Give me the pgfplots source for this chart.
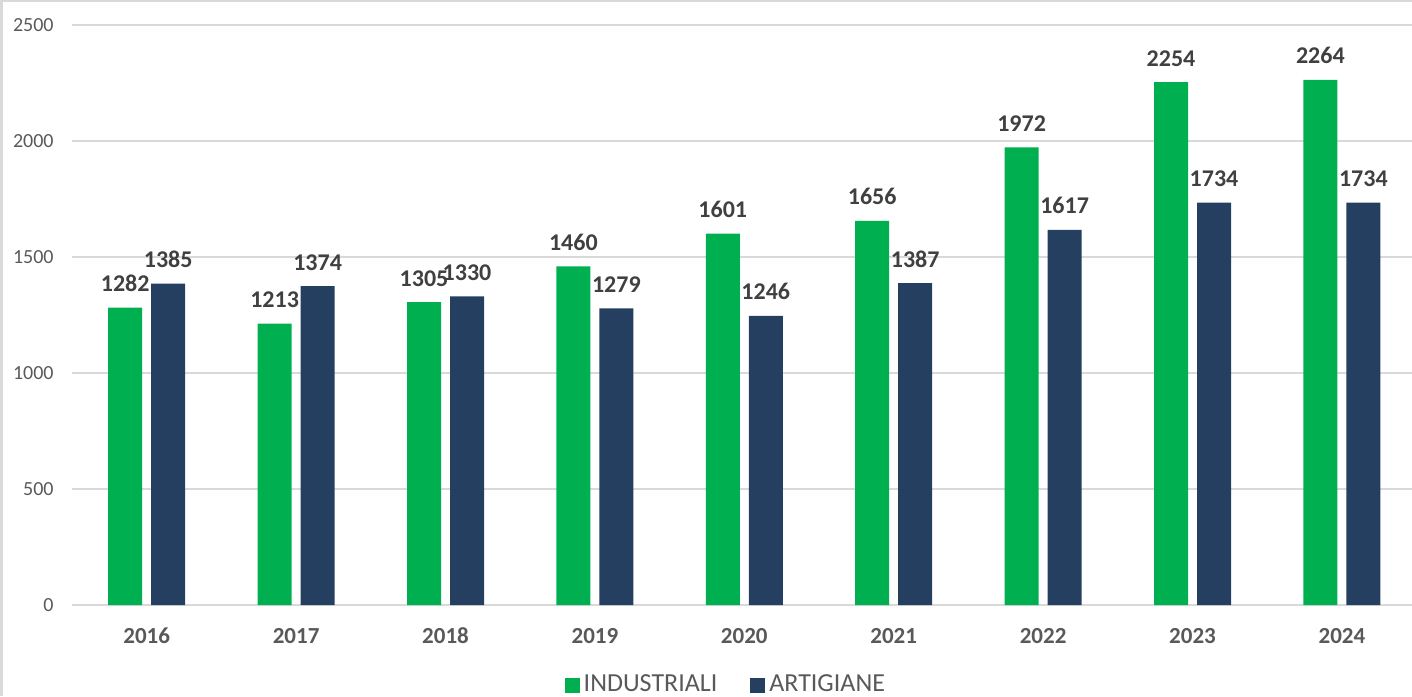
\documentclass[border=0pt]{standalone}
\usepackage{fontspec}
\setmainfont{Carlito}
\usepackage{pgfplots}
\pgfplotsset{compat=1.18}
\definecolor{verde}{HTML}{00B050}
\definecolor{blu}{HTML}{243F60}
\definecolor{griglia}{HTML}{D9D9D9}
\definecolor{testo}{HTML}{595959}
\definecolor{etich}{HTML}{404040}

\begin{document}
\begin{tikzpicture}
\begin{axis}[
  at={(36pt,45.5pt)}, anchor=south west,
  scale only axis, width=672.3pt, height=290pt,
  ybar=4.5pt, bar width=17pt,
  xmin=-0.5, xmax=8.5, ymin=0, ymax=2500,
  xtick=data,
  xticklabels={2016,2017,2018,2019,2020,2021,2022,2023,2024},
  ytick={0,500,...,2500},
  ymajorgrids, major grid style={griglia, line width=0.75pt},
  axis line style={draw=none},
  major tick length=0pt,
  /pgf/number format/1000 sep={},
  /pgf/number format/assume math mode=true,
  yticklabel style={font=\fontsize{10}{12}\selectfont, text=testo, anchor=east, inner sep=0pt, xshift=-9pt},
  xticklabel style={font=\bfseries\fontsize{11.5}{13}\selectfont, text=testo, anchor=base, inner sep=0pt, yshift=-19pt},
  nodes near coords,
  every node near coord/.append style={font=\bfseries\fontsize{12}{14}\selectfont, text=etich, anchor=base, inner sep=0pt, yshift=8pt},
  legend style={at={(0.487,-0.138)}, anchor=center, draw=none, fill=none,
    font=\fontsize{13}{15}\selectfont, text=testo,
    /tikz/every even column/.append style={column sep=14.5pt}},
  legend columns=2,
  legend image code/.code={\fill[#1] (0pt,-3.75pt) rectangle (7.5pt,3.75pt);},
]
% industriali
\addplot[fill=verde, draw=none] coordinates {
  (0,1282) (1,1213) (2,1305) (3,1460) (4,1601) (5,1656) (6,1972) (7,2254) (8,2264)
};
% artigiane
\addplot[fill=blu, draw=none] coordinates {
  (0,1385) (1,1374) (2,1330) (3,1279) (4,1246) (5,1387) (6,1617) (7,1734) (8,1734)
};
\legend{INDUSTRIALI, ARTIGIANE}
\end{axis}
\draw[griglia, line width=1.25pt] (0.625pt,0pt) -- (0.625pt,347.375pt) -- (706pt,347.375pt);
\pgfresetboundingbox
\path (0pt,0pt) rectangle (706pt,348pt);
\end{tikzpicture}
\end{document}
